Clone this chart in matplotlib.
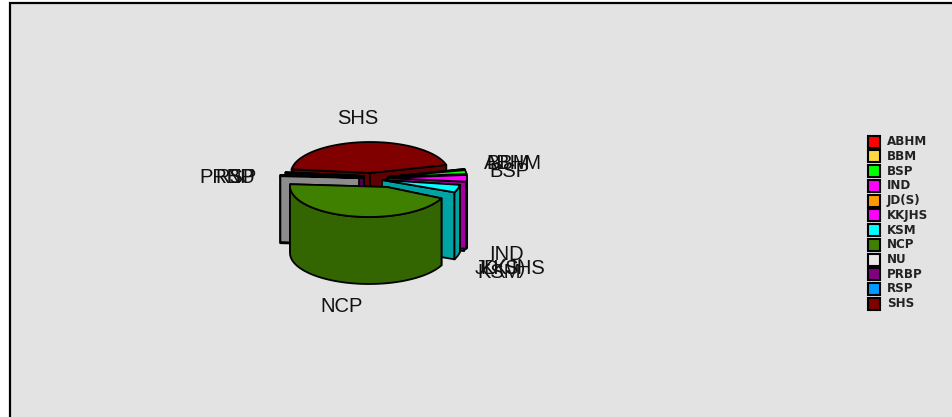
import numpy as np
import matplotlib
matplotlib.use("Agg")
import matplotlib.pyplot as plt
from matplotlib.patches import Rectangle, Polygon

categories = ["ABHM", "BBM", "BSP", "IND", "JD(S)", "KKJHS", "KSM", "NCP", "NU", "PRBP", "RSP", "SHS"]
values = [0.3, 0.3, 2.0, 3.5, 0.3, 0.3, 4.0, 44.5, 0.6, 0.2, 0.2, 44.0]
colors = ["#ff0000", "#ffd940", "#00ff00", "#ff00ff", "#ff9900", "#ff00ff",
          "#00ffff", "#408000", "#e8e8e8", "#800080", "#0099ff", "#800000"]
wall_colors = ["#a00000", "#a08a20", "#00a000", "#a000a0", "#a06000", "#a000a0",
               "#00a3a3", "#336600", "#8c8c8c", "#500050", "#0060a0", "#600000"]
top_override = {"NU": "#8c8c8c"}

# layout of the drawing (pixels)
FIG_W, FIG_H = 952, 417
CX, CY, RX, RY, DEPTH = 370, 180, 79, 31, 67
offsets = {"ABHM": (18, -3), "BBM": (18, -3), "BSP": (18, -3), "IND": (18, -2), "JD(S)": (16, -1),
           "KKJHS": (16, -1), "KSM": (12, 0), "NCP": (-1, 6), "NU": (-11, -2), "PRBP": (-6, -2),
           "RSP": (-6, -4), "SHS": (0, -7)}
apex_shift = {"NCP": (18, 1)}
label_pos = {"ABHM": (513, 163), "BBM": (508, 163), "BSP": (509, 171), "IND": (506, 254),
             "JD(S)": (500, 268), "KKJHS": (513, 269), "KSM": (499, 272), "NCP": (342, 307),
             "NU": (241, 177), "PRBP": (227, 177), "RSP": (236, 177), "SHS": (358, 118)}
draw_order = ["SHS", "RSP", "PRBP", "ABHM", "BBM", "BSP", "JD(S)", "KKJHS", "IND", "KSM", "NU", "NCP"]

fig = plt.figure(figsize=(FIG_W / 100, FIG_H / 100), dpi=100)
ax = fig.add_axes([0, 0, 1, 1])
ax.set_xlim(0, FIG_W)
ax.set_ylim(FIG_H, 0)
ax.axis("off")
fig.patch.set_facecolor("white")
ax.add_patch(Rectangle((10, 3), FIG_W, FIG_H, fc="#e3e3e3", ec="black", lw=1.6, zorder=0))

total = sum(values)
start = 15.0  # the first slice starts here and slices run clockwise
angles = {}
a = start
for c, v in zip(categories, values):
    b = a - v / total * 360
    angles[c] = (a, b)
    a = b


def ell(t, cx, cy):
    t = np.radians(t)
    return np.column_stack([cx + RX * np.cos(t), cy - RY * np.sin(t)])


z = 1
for c in draw_order:
    i = categories.index(c)
    a1, a2 = angles[c]
    dx, dy = offsets[c]
    cx, cy = CX + dx, CY + dy
    t = np.linspace(a1, a2, max(3, int(abs(a1 - a2) / 2) + 2))
    arc = ell(t, cx, cy)
    sx, sy = apex_shift.get(c, (0, 0))
    apex = np.array([cx + sx, cy + sy])
    down = np.array([0, DEPTH])
    kw = dict(ec="black", lw=1.3, joinstyle="round")
    # cut faces
    for p in (arc[0], arc[-1]):
        ax.add_patch(Polygon([apex, p, p + down, apex + down], fc=wall_colors[i], zorder=z, **kw))
    # outer wall: only the part that faces the viewer
    mask = np.sin(np.radians(t)) <= 0.02
    if mask.sum() >= 2:
        front = arc[mask]
        ax.add_patch(Polygon(np.vstack([front, (front + down)[::-1]]), fc=wall_colors[i], zorder=z, **kw))
    ax.add_patch(Polygon(np.vstack([apex, arc]), fc=top_override.get(c, colors[i]), zorder=z, **kw))
    z += 1

label_font = ["Liberation Sans"]
for c in categories:
    x, y = label_pos[c]
    ax.text(x, y, c, ha="center", va="center", fontsize=14.5, family=label_font, color="#111111", zorder=30)

for i, c in enumerate(categories):
    y = 141.5 + i * 14.75
    ax.add_patch(Rectangle((868, y - 6), 12, 12, fc=colors[i], ec="black", lw=1.5, zorder=30))
    ax.text(887, y, c, ha="left", va="center", fontsize=8.6, family="DejaVu Sans",
            fontweight="bold", color="#222222", zorder=30)

fig.savefig("out.png", dpi=100)
